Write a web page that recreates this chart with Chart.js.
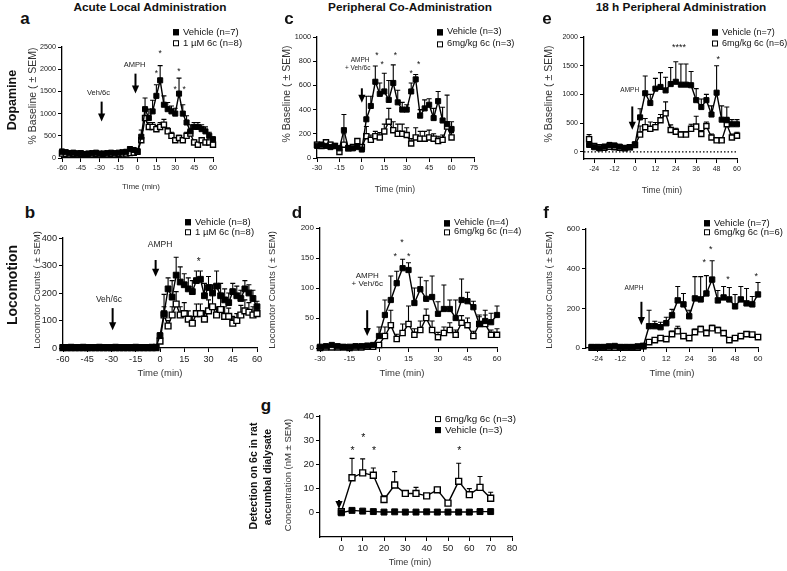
<!DOCTYPE html>
<html>
<head>
<meta charset="utf-8">
<script src="https://cdn.jsdelivr.net/npm/chart.js@4.4.1/dist/chart.umd.min.js"></script>
<style>
  body { margin: 0; background: #fff; }
  #fig { position: relative; width: 787px; height: 571px; overflow: hidden;
         font-family: "Liberation Sans", Arial, sans-serif; color: #111; }
  .t { position: absolute; white-space: nowrap; line-height: 1; }
  .lg { position: absolute; white-space: nowrap; line-height: 1; display: flex; align-items: center;
        transform: translateY(-50%); color: #111; }
  .sq { display: inline-block; width: 6px; height: 6px; box-sizing: border-box;
        border: 1.2px solid #000; margin-right: 4px; }
  canvas { position: absolute; }
</style>
</head>
<body>
<div id="fig"></div>
<script>
// ---- data: a (acute local, dopamine)
const aTime = [-60,-57,-54,-51,-48,-45,-42,-39,-36,-33,-30,-27,-24,-21,-18,-15,-12,-9,-6,-3,
  0,3,6,9,12,15,18,21,24,27,30,33,36,39,42,45,48,51,54,57,60];
const aVeh = [140,130,110,120,100,110,90,100,110,120,100,100,110,120,110,120,130,140,200,180,
  150,480,1100,900,1050,1400,1750,1200,1100,1050,1000,1450,1000,800,600,700,700,650,600,500,420];
const aVehSem = [60,50,40,40,30,30,30,30,30,30,30,30,30,30,30,30,30,40,60,50,
  60,150,250,200,250,250,330,200,150,120,120,350,200,150,150,100,100,100,100,80,60];
const aDrug = [100,90,80,90,100,90,80,90,80,90,80,90,80,90,80,90,100,100,110,120,
  140,400,900,700,700,650,700,750,600,500,400,450,400,500,550,350,300,400,350,350,300];
const aDrugSem = [30,30,30,30,30,30,30,30,30,30,30,30,30,30,30,30,30,30,40,40,
  40,100,200,100,100,80,100,120,80,80,60,60,60,80,80,60,50,60,50,50,50];

// ---- b (acute local, locomotion)
const bTime = [-60,-57.5,-55,-52.5,-50,-47.5,-45,-42.5,-40,-37.5,-35,-32.5,-30,-27.5,-25,-22.5,-20,-17.5,-15,-12.5,-10,-7.5,-5,-2.5,
  0,2.5,5,7.5,10,12.5,15,17.5,20,22.5,25,27.5,30,32.5,35,37.5,40,42.5,45,47.5,50,52.5,55,57.5,60];
const bVeh = [2,2,3,2,2,3,2,2,2,3,2,2,2,3,2,2,2,2,3,2,2,2,3,3,
  45,125,215,185,265,240,230,215,205,245,250,190,220,200,225,190,175,165,205,190,180,215,200,180,150];
const bVehSem = [2,2,2,2,2,2,2,2,2,2,2,2,2,2,2,2,2,2,2,2,2,2,2,2,
  10,70,40,60,65,55,40,40,40,35,30,45,40,30,55,45,40,35,30,35,30,30,30,30,20];
const bDrug = [1,1,1,1,1,1,1,1,1,1,1,1,1,1,1,1,1,1,1,1,1,1,1,1,
  25,120,80,120,160,120,125,105,90,125,125,105,135,150,120,140,115,115,90,100,120,135,130,120,125];
const bDrugSem = [1,1,1,1,1,1,1,1,1,1,1,1,1,1,1,1,1,1,1,1,1,1,1,1,
  5,30,20,30,45,30,40,30,25,35,35,30,40,45,30,45,35,30,25,25,35,40,35,30,30];

// ---- c (peripheral co-administration, dopamine)
const cTime = [-30,-27,-24,-21,-18,-15,-12,-9,-6,-3,0,3,6,9,12,15,18,21,24,27,30,33,36,39,42,45,48,51,54,57,60];
const cVeh = [100,110,100,90,100,80,230,80,80,90,70,
  320,430,630,530,550,480,620,460,400,400,550,650,350,410,440,330,470,310,280,240];
const cVehSem = [20,20,20,20,20,20,130,20,20,20,20,
  190,80,130,90,150,160,150,100,60,40,70,40,50,70,50,80,80,110,240,60];
const cDrug = [110,100,130,110,100,50,110,80,90,140,90,
  180,150,180,170,220,300,230,200,200,190,120,170,160,160,170,160,140,150,260,170];
const cDrugSem = [20,20,20,20,20,20,90,20,20,20,20,
  80,40,40,40,60,110,70,80,80,60,40,80,60,60,60,40,40,40,40,40];

// ---- d (peripheral co-administration, locomotion)
const dTime = cTime;
const dVeh = [2,3,5,3,2,2,3,3,4,5,
  20,55,80,108,133,130,75,98,82,85,57,65,65,50,80,78,68,40,45,43,55];
const dVehSem = [2,2,2,2,2,2,2,2,2,2,
  15,25,40,20,15,12,25,20,30,35,20,40,15,30,35,15,10,15,18,15,15];
const dDrug = [0,1,1,1,1,0,1,1,2,2,
  5,20,38,15,25,40,22,30,50,30,18,25,30,22,42,38,20,40,40,22,22];
const dDrugSem = [1,1,1,1,1,1,1,1,1,1,
  3,15,25,8,15,30,10,15,15,15,8,10,12,8,12,12,8,12,15,8,10];

// ---- e (18 h peripheral, dopamine)
const eTime = [-27,-24,-21,-18,-15,-12,-9,-6,-3,0,3,6,9,12,15,18,21,24,27,30,33,36,39,42,45,48,51,54,57,60];
const eVeh = [120,80,60,90,120,110,90,70,80,
  130,600,1020,850,1100,1130,1070,1180,1220,1170,1170,1160,900,780,900,650,1030,560,550,480,480];
const eVehSem = [60,40,30,40,40,40,30,30,30,
  40,150,300,150,180,250,230,290,350,360,360,240,200,140,100,150,470,240,230,80,80];
const eDrug = [220,100,80,70,90,80,70,60,80,
  120,300,430,400,430,550,670,380,350,300,300,400,440,310,450,250,200,200,480,250,280];
const eDrugSem = [80,30,20,20,20,20,20,20,20,
  30,150,150,120,80,100,200,90,60,50,50,80,180,60,70,60,50,40,120,60,60];

// ---- f (18 h peripheral, locomotion)
const fTime = eTime;
const fVeh = [5,5,5,8,10,5,5,5,8,
  10,110,110,105,125,165,240,220,160,250,245,275,345,240,255,245,210,245,225,220,270];
const fVehSem = [5,5,5,5,5,5,5,5,5,
  5,80,25,25,30,30,70,55,30,110,115,90,95,50,55,60,60,65,75,40,60];
const fDrug = [2,2,2,2,2,2,2,2,2,
  10,30,40,50,45,70,85,60,50,80,95,75,100,90,75,40,50,60,70,68,55];
const fDrugSem = [2,2,2,2,2,2,2,2,2,
  3,10,10,10,10,15,25,10,10,15,15,15,15,15,10,10,10,10,10,10,10];

// ---- g (6c in dialysate)
const gTime = [0,5,10,15,20,25,30,35,40,45,50,55,60,65,70];
const gDrug = [0.5,14.5,16.5,15.5,5.5,11.5,8,8,7,9.5,4,13,7.5,10.5,6];
const gDrugSem = [0.5,8,5.8,3,1.5,5.5,0.8,2.5,1,1,0.5,7.5,2.5,4.5,2.5];
const gVeh = [0,1,0.7,0.5,0.3,0.4,0.3,0.3,0.4,0.3,0.3,0.3,0.3,0.5,0.5];

// ---- tick labels
const aXTicks = [-60,-45,-30,-15,0,15,30,45,60];
const aYTicks = [0,500,1000,1500,2000,2500];
const bYTicks = [0,100,200,300,400];
const cXTicks = [-30,-15,0,15,30,45,60,75];
const cYTicks = [0,200,400,600,800,1000];
const dXTicks = [-30,-15,0,15,30,45,60];
const dYTicks = [0,50,100,150,200];
const eXTicks = [-24,-12,0,12,24,36,48,60];
const eYTicks = [0,500,1000,1500,2000];
const fYTicks = [0,200,400,600];
const gXTicks = [0,10,20,30,40,50,60,70,80];
const gYTicks = [0,10,20,30,40];

const FONT = '"Liberation Sans", Arial, sans-serif';
const fig = document.getElementById('fig');

const panels = [
  { box: [62, 47, 213, 158], x: [-60, 60], y: [0, 2500], xt: aXTicks, yt: aYTicks, tick: 7.2, r: 3.6,
    t: aTime, veh: aVeh, vehSem: aVehSem, drug: aDrug, drugSem: aDrugSem,
    stars: [[15, 1950], [18, 2400], [30, 1600], [33, 2000], [37, 1600]], starSize: 8.5,
    arrows: [[-28.5, 1270, 820], [-1.6, 1900, 1450]],
    labels: [[-31, 1455, 'Veh/6c'], [-2.4, 2090, 'AMPH']], labelSize: 7.5 },
  { box: [63, 238, 257, 348], x: [-60, 60], y: [0, 400], xt: aXTicks, yt: bYTicks, tick: 9.2, r: 4.1,
    t: bTime, veh: bVeh, vehSem: bVehSem, drug: bDrug, drugSem: bDrugSem,
    stars: [[24, 324]], starSize: 10,
    arrows: [[-29.3, 145, 65], [-2.7, 320, 259]],
    labels: [[-31.6, 176, 'Veh/6c'], [0, 375, 'AMPH']], labelSize: 8.5 },
  { box: [317, 37, 474, 158], x: [-30, 75], y: [0, 1000], xt: cXTicks, yt: cYTicks, tick: 7.3, r: 3.6,
    t: cTime, veh: cVeh, vehSem: cVehSem, drug: cDrug, drugSem: cDrugSem,
    stars: [[10, 865], [13.5, 796], [22.5, 865], [33, 721], [38, 788]], starSize: 8.5,
    arrows: [[0, 576, 457]],
    labels: [[-1.2, 810, 'AMPH'], [-2.8, 741, '+ Veh/6c']], labelSize: 6.5 },
  { box: [320, 228, 497, 348], x: [-30, 60], y: [0, 200], xt: dXTicks, yt: dYTicks, tick: 8, r: 3.7,
    t: dTime, veh: dVeh, vehSem: dVehSem, drug: dDrug, drugSem: dDrugSem,
    stars: [[11.7, 180], [8.3, 157], [15.1, 157]], starSize: 9,
    arrows: [[-6, 63, 20]],
    labels: [[-6, 120, 'AMPH'], [-6, 107, '+ Veh/6c']], labelSize: 8 },
  { box: [584, 37, 737, 159], x: [-30, 60], y: [-125, 2000], xt: eXTicks, yt: eYTicks, tick: 7, r: 3.6,
    t: eTime, veh: eVeh, vehSem: eVehSem, drug: eDrug, drugSem: eDrugSem, zero: true,
    stars: [[25.9, 1864, '****'], [49, 1650]], starSize: 9,
    arrows: [[-1.6, 790, 383]],
    labels: [[-3.1, 1080, 'AMPH']], labelSize: 6.5 },
  { box: [586, 229, 758, 348], x: [-30, 60], y: [0, 600], xt: eXTicks, yt: fYTicks, tick: 8, r: 3.8,
    t: fTime, veh: fVeh, vehSem: fVehSem, drug: fDrug, drugSem: fDrugSem,
    stars: [[31.9, 444], [35.3, 511], [44.3, 360], [59.1, 373]], starSize: 9,
    arrows: [[-1, 233, 116]],
    labels: [[-4.9, 301, 'AMPH']], labelSize: 6.5 },
  { box: [320, 416, 512, 537], x: [-10, 80], y: [-10, 40], xt: gXTicks, yt: gYTicks, tick: 9.5, r: 4.2,
    t: gTime, veh: gVeh, vehSem: null, drug: gDrug, drugSem: gDrugSem,
    stars: [[5.3, 26.7], [10.3, 32.1], [15.3, 26.7], [55.3, 26.7]], starSize: 10.5,
    arrows: [[-1.1, 5.3, 1.6]],
    labels: [], labelSize: 8 }
];

function series(t, v) { return t.map((x, i) => ({ x: x, y: v[i] })); }

function marksPlugin(p) {
  return {
    id: 'marks',
    beforeDatasetsDraw(chart) {
      const { ctx, chartArea, scales: { x, y } } = chart;
      ctx.save();
      ctx.strokeStyle = '#000';
      if (p.zero) {
        ctx.setLineDash([1.5, 2]);
        ctx.lineWidth = 1.2;
        const y0 = y.getPixelForValue(0);
        ctx.beginPath(); ctx.moveTo(chartArea.left, y0); ctx.lineTo(chartArea.right, y0); ctx.stroke();
        ctx.setLineDash([]);
      }
      ctx.lineWidth = 1.1;
      [[p.veh, p.vehSem], [p.drug, p.drugSem]].forEach(([v, sem]) => {
        if (!sem) return;
        p.t.forEach((t, i) => {
          const px = x.getPixelForValue(t);
          const y0 = y.getPixelForValue(v[i]);
          const y1 = y.getPixelForValue(v[i] + sem[i]);
          ctx.beginPath();
          ctx.moveTo(px, y0); ctx.lineTo(px, y1);
          ctx.moveTo(px - 2.5, y1); ctx.lineTo(px + 2.5, y1);
          ctx.stroke();
        });
      });
      ctx.restore();
    },
    afterDatasetsDraw(chart) {
      const { ctx, scales: { x, y } } = chart;
      ctx.save();
      ctx.fillStyle = '#000'; ctx.strokeStyle = '#000';
      // arrows
      p.arrows.forEach(([ax, top, tip]) => {
        const px = x.getPixelForValue(ax), y0 = y.getPixelForValue(top), y1 = y.getPixelForValue(tip);
        ctx.lineWidth = 2;
        ctx.beginPath(); ctx.moveTo(px, y0); ctx.lineTo(px, y1 - 6); ctx.stroke();
        ctx.beginPath(); ctx.moveTo(px - 3.6, y1 - 8); ctx.lineTo(px + 3.6, y1 - 8); ctx.lineTo(px, y1);
        ctx.closePath(); ctx.fill();
      });
      // labels
      ctx.fillStyle = '#222';
      ctx.font = p.labelSize + 'px ' + FONT;
      ctx.textAlign = 'center'; ctx.textBaseline = 'middle';
      p.labels.forEach(([lx, ly, s]) => ctx.fillText(s, x.getPixelForValue(lx), y.getPixelForValue(ly)));
      // stars
      ctx.fillStyle = '#111';
      ctx.font = p.starSize + 'px ' + FONT;
      ctx.textBaseline = 'alphabetic';
      p.stars.forEach(([sx, sy, s]) => {
        ctx.fillText(s || '*', x.getPixelForValue(sx), y.getPixelForValue(sy) + 0.57 * p.starSize);
      });
      ctx.restore();
    }
  };
}

function axis(p, range, ticks, horizontal, pad) {
  return {
    type: 'linear', min: range[0], max: range[1],
    afterBuildTicks: s => { s.ticks = ticks.map(v => ({ value: v })); },
    afterFit: s => { if (horizontal) s.height = pad; else s.width = pad; },
    grid: { display: true, drawOnChartArea: false, drawTicks: true, tickLength: 4, color: '#000', lineWidth: 1 },
    border: { display: true, color: '#000', width: 1.3 },
    ticks: { font: { family: FONT, size: p.tick }, color: '#222', padding: 2, maxRotation: 0,
             autoSkip: false, callback: v => String(v) }
  };
}

function makePanel(p) {
  const padL = 45, padR = 14, padT = 14, padB = 26;
  const cv = document.createElement('canvas');
  const w = p.box[2] - p.box[0] + padL + padR;
  const h = p.box[3] - p.box[1] + padT + padB;
  cv.width = w; cv.height = h;
  cv.style.left = (p.box[0] - padL) + 'px';
  cv.style.top = (p.box[1] - padT) + 'px';
  cv.style.width = w + 'px'; cv.style.height = h + 'px';
  fig.appendChild(cv);
  const common = { showLine: true, borderColor: '#000', borderWidth: 1.4, pointStyle: 'rect',
                   pointRadius: p.r, pointBorderColor: '#000', clip: false };
  new Chart(cv, {
    type: 'scatter',
    data: {
      datasets: [
        Object.assign({ data: series(p.t, p.veh), pointBackgroundColor: '#000', pointBorderWidth: 1, order: 1 }, common),
        Object.assign({ data: series(p.t, p.drug), pointBackgroundColor: '#fff', pointBorderWidth: 1.4, order: 2 }, common)
      ]
    },
    options: {
      responsive: false, animation: false, events: [],
      layout: { padding: { left: 0, right: padR, top: padT, bottom: 0 } },
      plugins: { legend: { display: false }, tooltip: { enabled: false } },
      scales: { x: axis(p, p.x, p.xt, true, padB), y: axis(p, p.y, p.yt, false, padL) }
    },
    plugins: [marksPlugin(p)]
  });
}

panels.forEach(makePanel);

// ---- text round the charts
function txt(s, x, y, size, bold, vert, color) {
  const d = document.createElement('div');
  d.className = 't';
  d.textContent = s;
  d.style.left = x + 'px'; d.style.top = y + 'px';
  d.style.fontSize = size + 'px';
  if (bold) d.style.fontWeight = 'bold';
  if (color) d.style.color = color;
  d.style.transform = vert ? 'translate(-50%,-50%) rotate(-90deg)' : 'translate(-50%,-50%)';
  fig.appendChild(d);
}
function legendRow(x, y, filled, s, size) {
  const d = document.createElement('div');
  d.className = 'lg';
  d.style.left = x + 'px'; d.style.top = y + 'px'; d.style.fontSize = size + 'px';
  const sq = document.createElement('span');
  sq.className = 'sq';
  sq.style.background = filled ? '#000' : '#fff';
  d.appendChild(sq);
  d.appendChild(document.createTextNode(s));
  fig.appendChild(d);
}

// titles
txt('Acute Local Administration', 150, 8, 11.8, true);
txt('Peripheral Co-Administration', 410, 8, 11.8, true);
txt('18 h Peripheral Administration', 681, 8, 11.8, true);
// panel letters
[['a', 25, 18], ['b', 30, 212], ['c', 289, 18], ['d', 297, 212], ['e', 547, 18], ['f', 546, 212], ['g', 266, 405]]
  .forEach(([s, x, y]) => txt(s, x, y, 17, true));
// row labels
txt('Dopamine', 12, 100, 12.5, true, true);
txt('Locomotion', 12, 285, 14, true, true);
// axis titles
const yT = '% Baseline ( \u00b1 SEM)', yL = 'Locomotor Counts ( \u00b1 SEM)';
txt(yT, 32, 96, 10.5, false, true, '#333');
txt(yL, 37, 290, 9.5, false, true, '#333');
txt(yT, 286, 94, 10.5, false, true, '#333');
txt(yL, 272, 290, 9.5, false, true, '#333');
txt(yT, 548, 94, 10.5, false, true, '#333');
txt(yL, 549, 290, 9.5, false, true, '#333');
txt('Concentration (nM \u00b1 SEM)', 288, 475, 9.5, false, true, '#333');
txt('Detection on 6c in rat', 253, 476, 10.5, true, true);
txt('accumbal dialysate', 267, 477, 10.5, true, true);
txt('Time (min)', 141, 187, 8, false, false, '#333');
txt('Time (min)', 160, 373, 9.5, false, false, '#333');
txt('Time (min)', 395, 189, 8.5, false, false, '#333');
txt('Time (min)', 402, 373, 9.5, false, false, '#333');
txt('Time (min)', 662, 190, 8.5, false, false, '#333');
txt('Time (min)', 672, 373, 9.5, false, false, '#333');
txt('Time (min)', 410, 562, 9, false, false, '#333');
// legends
legendRow(173, 32, true, 'Vehicle (n=7)', 9.5);
legendRow(173, 43, false, '1 \u00b5M 6c (n=8)', 9.5);
legendRow(185, 222, true, 'Vehicle (n=8)', 9.5);
legendRow(185, 232, false, '1 \u00b5M 6c (n=8)', 9.5);
legendRow(437, 32, true, 'Vehicle (n=3)', 9.3);
legendRow(437, 44, false, '6mg/kg 6c (n=3)', 9.3);
legendRow(444, 223, true, 'Vehicle (n=4)', 9.3);
legendRow(444, 232, false, '6mg/kg 6c (n=4)', 9.3);
legendRow(712, 32, true, 'Vehicle (n=7)', 9);
legendRow(712, 43, false, '6mg/kg 6c (n=6)', 9);
legendRow(704, 223, true, 'Vehicle (n=7)', 9.5);
legendRow(704, 232, false, '6mg/kg 6c (n=6)', 9.5);
legendRow(435, 419, false, '6mg/kg 6c (n=3)', 9.8);
legendRow(435, 430, true, 'Vehicle (n=3)', 9.8);
</script>
</body>
</html>
